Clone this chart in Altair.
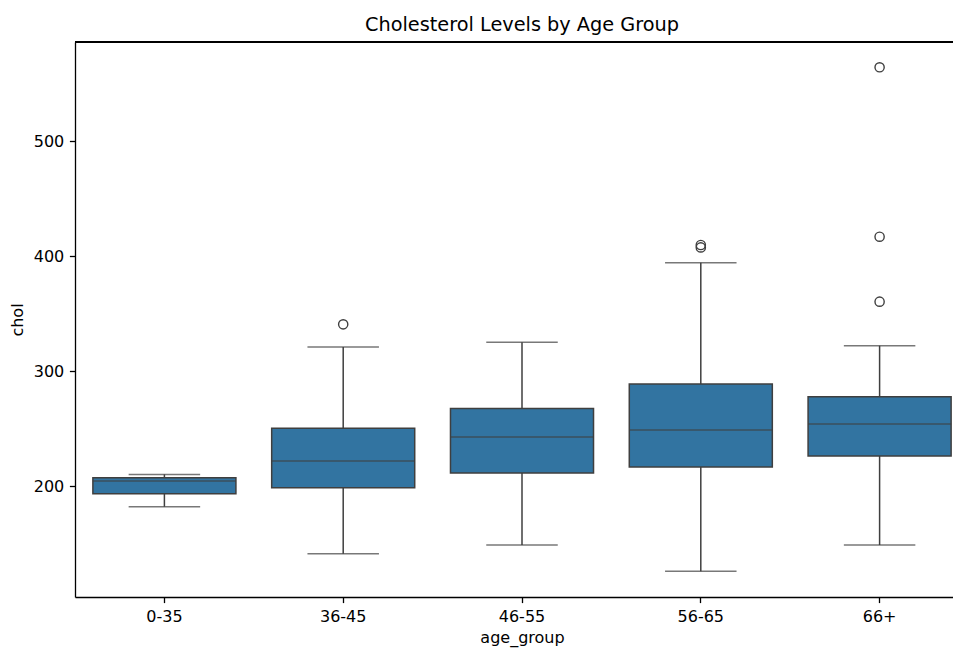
import altair as alt
import pandas as pd

# ---- data ----
groups = ["0-35", "36-45", "46-55", "56-65", "66+"]
whisker_low = [182.0, 141.0, 148.7, 125.8, 148.7]
q1 = [193.3, 198.5, 211.3, 216.5, 226.1]
median = [204.3, 221.7, 242.6, 248.7, 253.9]
q3 = [207.2, 250.2, 267.5, 288.7, 277.7]
whisker_high = [210.1, 320.9, 325.0, 394.2, 322.0]

outlier_group = ["36-45", "56-65", "56-65", "66+", "66+", "66+"]
outlier_value = [340.6, 409.6, 407.5, 564.1, 416.8, 360.3]

box_color = "#3274a1"
line_color = "#3f3f3f"
font = "DejaVu Sans"

summary = pd.DataFrame({
    "age_group": groups,
    "low": whisker_low,
    "q1": q1,
    "median": median,
    "q3": q3,
    "high": whisker_high,
})
outliers = pd.DataFrame({"age_group": outlier_group, "chol": outlier_value})

x_scale = alt.Scale(domain=groups, range=[0, 894], paddingInner=0, paddingOuter=0)
y_scale = alt.Scale(domain=[103.5, 586.1], nice=False, zero=False)

x_axis = alt.Axis(title="age_group", labelAngle=0, titlePadding=5)
y_axis = alt.Axis(title="chol", values=[200, 300, 400, 500], titlePadding=7.5)

x_enc = alt.X("age_group:N", scale=x_scale, axis=x_axis, sort=groups)

base = alt.Chart(summary)

whisker = base.mark_rule(color=line_color, strokeWidth=1.5).encode(
    x=x_enc,
    y=alt.Y("low:Q", scale=y_scale, axis=y_axis),
    y2="high:Q",
)

caps_low = base.mark_tick(color=line_color, size=71.5, thickness=1.5).encode(
    x=x_enc, y=alt.Y("low:Q", scale=y_scale, axis=y_axis)
)
caps_high = base.mark_tick(color=line_color, size=71.5, thickness=1.5).encode(
    x=x_enc, y=alt.Y("high:Q", scale=y_scale, axis=y_axis)
)

box = base.mark_bar(
    width={"band": 0.8}, color=box_color, stroke=line_color, strokeWidth=1.5
).encode(
    x=x_enc,
    y=alt.Y("q1:Q", scale=y_scale, axis=y_axis),
    y2="q3:Q",
)

med = base.mark_tick(color=line_color, size=143, thickness=1.5).encode(
    x=x_enc, y=alt.Y("median:Q", scale=y_scale, axis=y_axis)
)

fliers = alt.Chart(outliers).mark_point(
    shape="circle", filled=False, color=line_color, size=85, strokeWidth=1.4, opacity=1
).encode(
    x=x_enc, y=alt.Y("chol:Q", scale=y_scale, axis=y_axis)
)

top_spine = alt.Chart(summary).mark_rule(color="black", strokeWidth=1.3).encode(
    x=alt.value(0), x2=alt.value(900), y=alt.value(0)
)

chart = alt.layer(whisker, caps_low, caps_high, box, med, fliers, top_spine).properties(
    width=878,
    height=555,
    title=alt.TitleParams(
        "Cholesterol Levels by Age Group",
        font=font, fontSize=19.3, fontWeight="normal", color="black",
        offset=6, dx=8,
    ),
    autosize=alt.AutoSizeParams(type="none"),
    padding={"left": 67, "top": 34, "right": 0, "bottom": 51},
).configure_view(
    strokeWidth=0
).configure_axis(
    grid=False,
    domainColor="black",
    domainWidth=1.3,
    tickColor="black",
    tickWidth=1.3,
    tickSize=5.6,
    labelPadding=5.6,
    labelFont=font,
    labelFontSize=16,
    labelColor="black",
    titleFont=font,
    titleFontSize=16,
    titleFontWeight="normal",
    titleColor="black",
)

chart.save("out.html", embed_options={"renderer": "svg", "actions": False})
